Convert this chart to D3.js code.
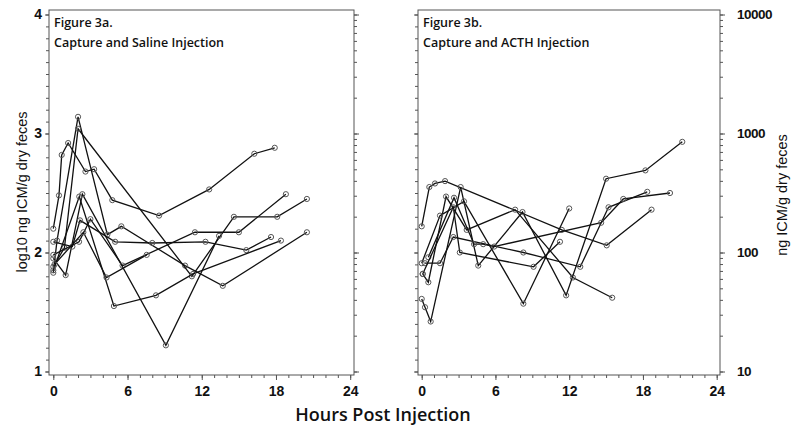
<!DOCTYPE html>
<html><head><meta charset="utf-8">
<script src="https://cdn.jsdelivr.net/npm/d3@7"></script>
<style>body{margin:0;background:#fff}svg{display:block}</style>
</head><body><svg id="c" width="800" height="433"></svg>
<script>
// Hours post injection ticks
const xTicks = [0, 6, 12, 18, 24];
const yTicksLog = [1, 2, 3, 4];
const yTicksRaw = [10, 100, 1000, 10000];
const panelTitles = [["Figure 3a.", "Capture and Saline Injection"], ["Figure 3b.", "Capture and ACTH Injection"]];

// Figure 3a: each animal = [hours, log10 ng ICM/g]
const salineHours = [
  [0, 0.46, 0.68, 1.2, 2.6, 3.3, 4.77, 8.55, 12.6, 16.25, 17.9],
  [0, 0.3, 2.0, 4.37, 5.5, 10.65, 13.7, 20.5],
  [0, 0.9, 2.0, 11.2, 14.6, 18.1, 20.5],
  [0, 1.0, 2.35, 9.1, 13.4],
  [0, 1.54, 2.16, 5.0, 8.0, 12.3, 15.6, 17.6],
  [0, 2.1, 4.9, 8.3, 11.3, 18.4],
  [0, 2.08, 3.0, 5.6, 11.45, 15.0, 18.8],
  [0.1, 2.43, 4.3, 7.55]
];
const salineValues = [
  [2.20, 2.48, 2.82, 2.92, 2.68, 2.70, 2.44, 2.31, 2.53, 2.83, 2.88],
  [1.83, 2.10, 3.14, 2.15, 2.22, 1.89, 1.72, 2.17],
  [1.88, 2.04, 3.04, 1.80, 2.30, 2.30, 2.45],
  [1.95, 1.81, 2.49, 1.22, 2.14],
  [2.09, 2.05, 2.27, 2.09, 2.08, 2.09, 2.02, 2.13],
  [1.85, 2.47, 1.55, 1.64, 1.82, 2.10],
  [1.98, 2.09, 2.28, 1.89, 2.17, 2.17, 2.49],
  [1.90, 2.17, 1.79, 1.98]
];
// Figure 3b
const acthHours = [
  [0, 0.62, 1.08, 1.9, 11.4, 15.05, 18.7],
  [0.08, 0.54, 1.98, 3.66, 7.6, 12.3, 15.5],
  [0, 0.27, 0.73, 3.17, 4.6, 8.2, 11.75, 15.0, 18.2, 21.2],
  [0, 1.49, 3.44, 8.27, 12.0],
  [0.27, 1.49, 2.57, 8.27, 12.9, 15.2, 18.35],
  [0.54, 2.63, 4.26, 5.0, 5.9, 14.6, 16.4, 20.2],
  [0.08, 2.57, 3.1, 9.1, 11.25]
];
const acthValues = [
  [2.22, 2.55, 2.58, 2.60, 2.19, 2.06, 2.36],
  [1.82, 1.75, 2.47, 2.19, 2.36, 1.79, 1.62],
  [1.61, 1.54, 1.42, 2.55, 1.89, 2.34, 1.64, 2.62, 2.69, 2.93],
  [1.91, 2.31, 2.43, 1.57, 2.37],
  [1.91, 1.91, 2.13, 2.00, 1.88, 2.38, 2.51],
  [1.96, 2.46, 2.07, 2.07, 2.05, 2.25, 2.45, 2.50],
  [1.82, 2.38, 2.00, 1.88, 2.09]
];

const svg = d3.select("#c");
const frameColor = "#555";
const y = d3.scaleLinear().domain([1, 4]).range([371.5, 14.5]);
const yLog = d3.scaleLog().domain([10, 10000]).range([371.5, 14.5]);
const frameTop = 10, frameBottom = 375;
const tickFont = "Liberation Sans, Arial, sans-serif";

function logMinor() {
  const t = [];
  for (let d = 10; d < 10000; d *= 10) for (let k = 1; k <= 9; k++) t.push(d * k);
  t.push(10000);
  return t;
}

function panel(left, right, x0, x1, hours, values, title, opts) {
  const x = d3.scaleLinear().domain([0, 24]).range([x0, x1]);
  const g = svg.append("g");
  g.append("rect").attr("x", left).attr("y", frameTop).attr("width", right - left).attr("height", frameBottom - frameTop)
    .attr("fill", "none").attr("stroke", frameColor).attr("stroke-width", 1);
  const xa = g.append("g").attr("transform", `translate(0,${frameBottom})`);
  xa.call(d3.axisBottom(x).tickValues(d3.range(0, 25, 1)).tickSize(3).tickFormat(""))
    .call(s => s.select(".domain").remove());
  xa.selectAll("line").attr("stroke", frameColor);
  const xb = g.append("g").attr("transform", `translate(0,${frameBottom})`);
  xb.call(d3.axisBottom(x).tickValues(xTicks).tickSize(5).tickPadding(6))
    .call(s => s.select(".domain").remove());
  xb.selectAll("line").attr("stroke", frameColor);
  xb.selectAll("text").attr("font-family", tickFont).attr("font-weight", "bold")
    .attr("font-size", 14).attr("fill", "#111");
  const ya = g.append("g").attr("transform", `translate(${left},0)`);
  ya.call(d3.axisLeft(y).tickValues(d3.range(10, 41).map(v => v / 10)).tickSize(3).tickFormat(""))
    .call(s => s.select(".domain").remove());
  ya.selectAll("line").attr("stroke", frameColor);
  const yb = g.append("g").attr("transform", `translate(${left},0)`);
  yb.call(d3.axisLeft(y).tickValues(yTicksLog).tickSize(4).tickPadding(3)
      .tickFormat(opts.leftLabels ? d3.format("d") : ""))
    .call(s => s.select(".domain").remove());
  yb.selectAll("line").attr("stroke", frameColor);
  yb.selectAll("text").attr("font-family", tickFont).attr("font-weight", "bold")
    .attr("font-size", 14).attr("fill", "#111");
  const ra = g.append("g").attr("transform", `translate(${right},0)`);
  ra.call(d3.axisRight(yLog).tickValues(logMinor()).tickSize(3).tickFormat(""))
    .call(s => s.select(".domain").remove());
  ra.selectAll("line").attr("stroke", frameColor);
  const rb = g.append("g").attr("transform", `translate(${right},0)`);
  rb.call(d3.axisRight(yLog).tickValues(yTicksRaw).tickSize(5).tickPadding(12)
      .tickFormat(opts.rightLabels ? d3.format("d") : ""))
    .call(s => s.select(".domain").remove());
  rb.selectAll("line").attr("stroke", frameColor);
  rb.selectAll("text").attr("font-family", tickFont).attr("font-weight", "bold")
    .attr("font-size", 13.5).attr("fill", "#111").attr("letter-spacing", -0.5);
  g.append("text").attr("x", left + 5).attr("y", frameTop + 17).text(title[0])
    .attr("font-family", "Open Sans, sans-serif").attr("font-weight", 600).attr("font-size", 12.5).attr("fill", "#111");
  g.append("text").attr("x", left + 5).attr("y", frameTop + 37).text(title[1])
    .attr("font-family", "Open Sans, sans-serif").attr("font-weight", 600).attr("font-size", 12.5).attr("fill", "#111");
  const line = d3.line().x(d => x(d[0])).y(d => y(d[1]));
  hours.forEach((hs, i) => {
    const pts = hs.map((h, j) => [h, values[i][j]]);
    g.append("path").datum(pts).attr("d", line).attr("fill", "none")
      .attr("stroke", "#111").attr("stroke-width", 1.3);
    g.selectAll(null).data(pts).enter().append("circle")
      .attr("cx", d => x(d[0])).attr("cy", d => y(d[1])).attr("r", 2.6)
      .attr("fill", "none").attr("stroke", "#555").attr("stroke-width", 1);
  });
}

panel(49, 354, 53.3, 350.2, salineHours, salineValues, panelTitles[0], {leftLabels: true, rightLabels: false});
panel(418, 720, 421.7, 716.7, acthHours, acthValues, panelTitles[1], {leftLabels: false, rightLabels: true});

svg.append("text").attr("transform", "translate(27,192) rotate(-90)").attr("text-anchor", "middle")
  .text("log10  ng  ICM/g  dry  feces").attr("font-family", tickFont).attr("font-size", 14.5)
  .attr("fill", "#111");
svg.append("text").attr("transform", "translate(787,195) rotate(-90)").attr("text-anchor", "middle")
  .text("ng  ICM/g  dry  feces").attr("font-family", tickFont).attr("font-size", 14.5)
  .attr("fill", "#111");
svg.append("text").attr("x", 383).attr("y", 421).attr("text-anchor", "middle")
  .text("Hours  Post  Injection").attr("font-family", "Open Sans, sans-serif").attr("font-size", 18)
  .attr("font-weight", 600).attr("fill", "#111");
</script></body></html>
